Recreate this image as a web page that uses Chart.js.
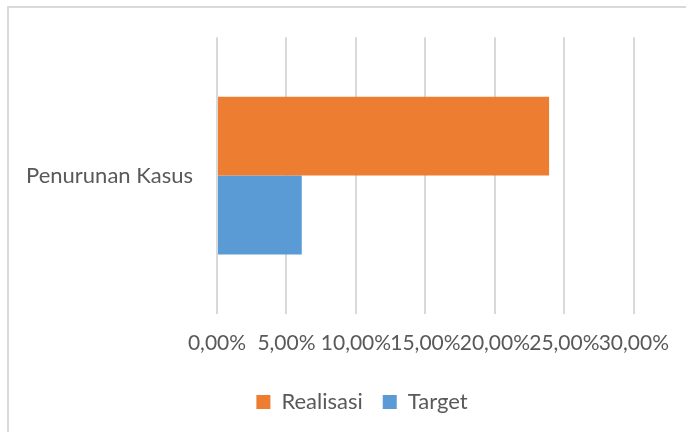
<!DOCTYPE html>
<html>
<head>
<meta charset="utf-8">
<script src="https://cdn.jsdelivr.net/npm/chart.js@4.4.0/dist/chart.umd.min.js"></script>
<style>
  body { margin: 0; background: #fff; }
  #wrap { position: relative; width: 686px; height: 432px; }
  #frame { position: absolute; left: 7px; top: 6px; right: 0; bottom: 0;
           border-left: 2px solid #d9d9d9; border-top: 2px solid #d9d9d9; }
  canvas { position: absolute; left: 0; top: 0; }
</style>
</head>
<body>
<div id="wrap">
  <div id="frame"></div>
  <canvas id="myChart" width="686" height="432"></canvas>
</div>
<script>
const categories = ["Penurunan Kasus"];
const realisasi = [23.9];
const target = [6.1];
const tickMax = 30;
const tickStep = 5;

const ctx = document.getElementById("myChart");
const textColor = "#595959";
const fontFamily = "Lato, 'Open Sans', sans-serif";

// nudge the legend right, the original centres it a bit off the canvas middle
const shiftLegend = {
  id: "shiftLegend",
  afterLayout(chart) {
    chart.legend.left += 45;
    chart.legend.right += 45;
  },
};

new Chart(ctx, {
  type: "bar",
  data: {
    labels: categories,
    datasets: [
      {
        label: "Realisasi",
        data: realisasi,
        backgroundColor: "#ed7d31",
      },
      {
        label: "Target",
        data: target,
        backgroundColor: "#5b9bd5",
      },
    ],
  },
  options: {
    indexAxis: "y",
    responsive: false,
    animation: false,
    categoryPercentage: 0.57,
    barPercentage: 1,
    layout: { padding: { left: 0, top: 35, right: 52, bottom: 9 } },
    plugins: {
      tooltip: { enabled: false },
      legend: {
        position: "bottom",
        labels: {
          color: textColor,
          font: { family: fontFamily, size: 22 },
          boxWidth: 14,
          boxHeight: 14,
          padding: 20,
        },
      },
    },
    scales: {
      x: {
        min: 0,
        max: tickMax,
        ticks: {
          stepSize: tickStep,
          color: textColor,
          padding: 17,
          maxRotation: 0,
          autoSkip: false,
          font: { family: fontFamily, size: 21 },
          callback: (v) => v.toFixed(2).replace(".", ",") + "%",
        },
        grid: { color: "#d9d9d9", lineWidth: 2, drawTicks: false },
        border: { display: false },
        afterFit: (scale) => { scale.height = 57; },
      },
      y: {
        ticks: {
          color: textColor,
          padding: 24,
          font: { family: fontFamily, size: 22 },
        },
        grid: { display: false, drawTicks: false },
        border: { display: false },
        afterFit: (scale) => { scale.width = 217; },
      },
    },
  },
  plugins: [shiftLegend],
});
</script>
</body>
</html>
